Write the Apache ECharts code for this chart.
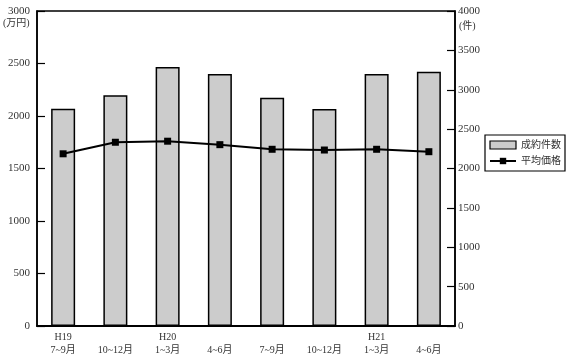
<!DOCTYPE html>
<html><head><meta charset="utf-8">
<script src="https://cdn.jsdelivr.net/npm/echarts@6/dist/echarts.min.js"></script>
<style>html,body{margin:0;padding:0;background:#fff}#c{width:572px;height:360px}</style>
</head><body><div id="c"></div>
<script>
const categories = ["H19\n7~9月", "\n10~12月", "H20\n1~3月", "\n4~6月", "\n7~9月", "\n10~12月", "H21\n1~3月", "\n4~6月"];
const contracts = [2760, 2930, 3290, 3200, 2900, 2755, 3200, 3230]; // 成約件数 (件)
const avgPrice = [1640, 1750, 1760, 1727, 1683, 1676, 1683, 1660]; // 平均価格 (万円)
const leftTicks = { min: 0, max: 3000, interval: 500 };
const rightTicks = { min: 0, max: 4000, interval: 500 };

const FONT = '"Liberation Serif", "DejaVu Serif", "Noto Sans CJK JP", serif';
const TXT = '#333';
const chart = echarts.init(document.getElementById('c'));
chart.setOption({
  animation: false,
  backgroundColor: '#fff',
  grid: { left: 37, right: 117, top: 11, bottom: 34, show: true, borderColor: '#000', borderWidth: 1.5, backgroundColor: 'transparent' },
  legend: {
    left: 485, top: 135, width: 80, orient: 'vertical',
    padding: [5, 4, 5, 4], itemGap: 6,
    borderColor: '#000', borderWidth: 1.2,
    itemWidth: 26, itemHeight: 8,
    textStyle: { fontFamily: FONT, fontSize: 10, color: TXT },
    data: [
      { name: '成約件数', icon: 'rect', itemStyle: { color: '#ccc', borderColor: '#000', borderWidth: 1.2 } },
      { name: '平均価格' }
    ]
  },
  xAxis: {
    type: 'category', data: categories,
    axisLine: { lineStyle: { color: '#000', width: 1.8 } },
    axisTick: { show: false },
    axisLabel: { fontFamily: FONT, fontSize: 10, color: TXT, lineHeight: 13, margin: 5 }
  },
  yAxis: [
    { type: 'value', min: leftTicks.min, max: leftTicks.max, interval: leftTicks.interval,
      axisLine: { show: true, lineStyle: { color: '#000', width: 1.5 } },
      axisTick: { show: true, inside: true, length: 8, lineStyle: { color: '#000', width: 1.2 } },
      splitLine: { show: false },
      axisLabel: { fontFamily: FONT, fontSize: 11, color: TXT, margin: 7, formatter: v => String(v) } },
    { type: 'value', min: rightTicks.min, max: rightTicks.max, interval: rightTicks.interval, position: 'right',
      axisLine: { show: true, lineStyle: { color: '#000', width: 1.5 } },
      axisTick: { show: true, inside: true, length: 8, lineStyle: { color: '#000', width: 1.2 } },
      splitLine: { show: false },
      axisLabel: { fontFamily: FONT, fontSize: 11, color: TXT, margin: 3, formatter: v => String(v) } }
  ],
  graphic: [
    { type: 'text', left: 3, top: 18, style: { text: '(万円)', font: '10px ' + FONT, fill: TXT } },
    { type: 'text', left: 459, top: 21, style: { text: '(件)', font: '10px ' + FONT, fill: TXT } }
  ],
  series: [
    { name: '成約件数', type: 'bar', yAxisIndex: 1, data: contracts, barWidth: 24,
      itemStyle: { color: '#ccc', borderColor: '#000', borderWidth: 1.5 } },
    { name: '平均価格', type: 'line', yAxisIndex: 0, data: avgPrice,
      symbol: 'rect', symbolSize: 7, lineStyle: { color: '#000', width: 2 }, itemStyle: { color: '#000' } }
  ]
});
</script></body></html>
